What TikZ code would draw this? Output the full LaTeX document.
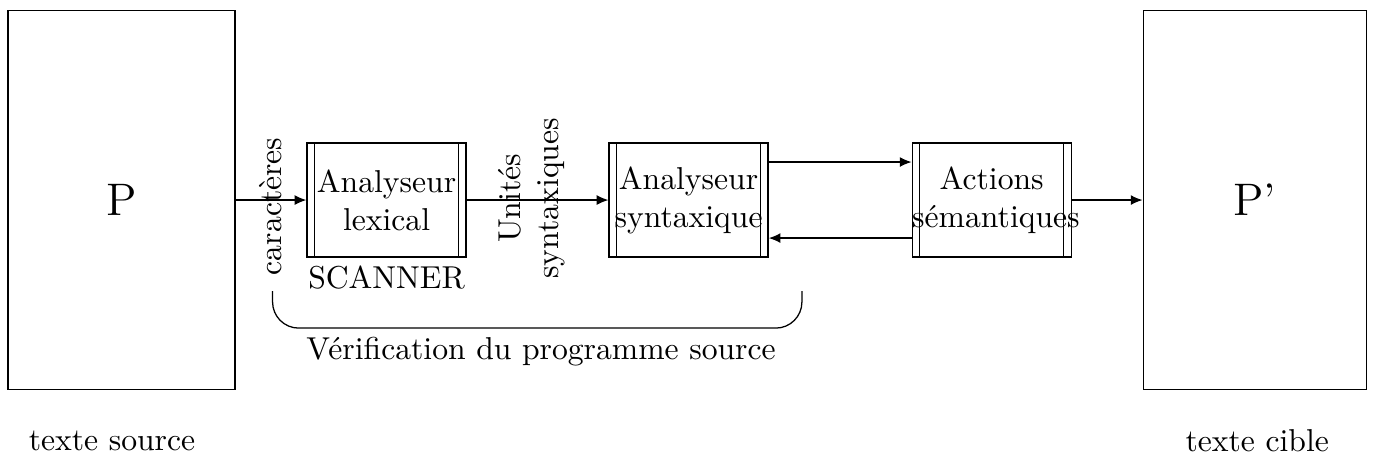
\documentclass[tikz,border=0pt]{standalone}
\usepackage{tikz}
\usetikzlibrary{positioning,arrows.meta}

\begin{document}
\begin{tikzpicture}[
      bigbox/.style={draw,minimum width=2.52cm,minimum height=4.2cm,font=\Large},
      procbox/.style={draw,text width=1.765cm,minimum height=1.265cm,
                  align=center,inner xsep=0pt,inner ysep=1pt,
                  path picture={
                    \draw ([xshift=0.085cm]path picture bounding box.north west)
                       -- ([xshift=0.085cm]path picture bounding box.south west);
                    \draw ([xshift=-0.085cm]path picture bounding box.north east)
                       -- ([xshift=-0.085cm]path picture bounding box.south east);}},
      vlabel/.style={midway,rotate=90,align=center},
      arr/.style={-{Latex[length=1.3mm,width=1.1mm]}}]
    \useasboundingbox (0,0) rectangle (15.26,-5.095);
    \node[bigbox] (src) at (1.349,-2.22)  {P};
    \node[bigbox,minimum width=2.476cm] (tgt) at (13.925,-2.22) {P'};
    \node (srctxt) at (1.243,-4.895)  {texte source};
    \node (tgttxt) at (13.953,-4.895) {texte cible};
    \node[procbox] (lex) at (4.29,-2.22)   {Analyseur\\lexical};
    \node[procbox] (syn) at (7.642,-2.22)  {Analyseur\\syntaxique};
    \node[procbox] (sem) at (11.006,-2.22) {Actions\\sémantiques};
    \node[below=-1pt of lex] (scan) {SCANNER};
    \draw[arr] (src.east) -- (lex.west) node[vlabel,xshift=-0.07cm] {caractères};
    \draw[arr] (lex.east) -- (syn.west) node[vlabel,yshift=0.07cm,xshift=0.02cm] {Unités\\syntaxiques};
    \draw[arr] ([yshift=0.422cm]syn.east) -- ([yshift=0.422cm]sem.west);
    \draw[arr] ([yshift=-0.422cm]sem.west) -- ([yshift=-0.422cm]syn.east);
    \draw[arr] (sem.east) -- (tgt.west);
    % accolade sous l'analyse
    \coordinate (bl) at (3.025,-3.23);
    \coordinate (br) at (8.90,-3.23);
    \draw[rounded corners=0.29cm] (bl) -- (3.025,-3.641) -- (8.90,-3.641) -- (br);
    \node (verif) at (6.005,-3.907) {Vérification du programme source};
  \end{tikzpicture}
\end{document}
